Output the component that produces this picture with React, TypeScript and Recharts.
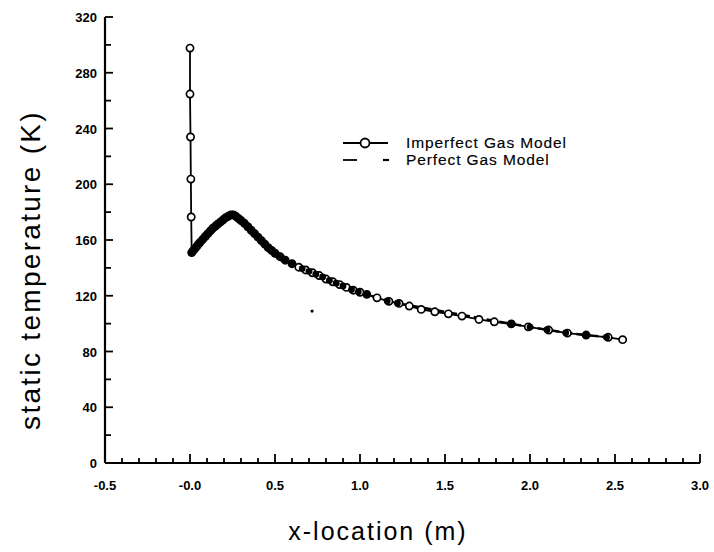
import React from 'react';
import { ComposedChart, Line, Scatter, XAxis, YAxis, Customized } from 'recharts';

// Imperfect gas model (open circles)
const impX = [
  0, 0, 0.003, 0.005, 0.007, 0.01,
  0.02, 0.03, 0.04, 0.05, 0.06, 0.075, 0.09, 0.105, 0.12, 0.135, 0.15, 0.165, 0.18, 0.195, 0.21, 0.225, 0.24,
  0.255, 0.27, 0.285, 0.3, 0.32, 0.34, 0.36, 0.38, 0.4, 0.42, 0.44, 0.46, 0.48, 0.5, 0.53, 0.56, 0.6,
  0.64, 0.68, 0.72, 0.76, 0.8, 0.84, 0.88, 0.92, 0.96, 1.0, 1.04, 1.1, 1.17, 1.23, 1.29, 1.36, 1.44,
  1.52, 1.6, 1.7, 1.79, 1.89, 1.99, 2.11, 2.22, 2.33, 2.46, 2.545,
];
const impT = [
  297.7, 264.7, 233.9, 203.7, 176.5, 151,
  152.5, 154, 155.5, 157, 158.5, 160.5, 162.5, 164.5, 166.5, 168.5, 170, 171.5, 173, 174.5, 176, 177, 178,
  178, 177, 175.5, 174, 172, 169.5, 167, 164.5, 162, 159.5, 157, 154.5, 152.5, 150.5, 148, 145.5, 143,
  140.5, 138.5, 136.5, 134.5, 132, 130, 128, 126, 124, 122.5, 121, 118.5, 116, 114.5, 112.6, 110.2, 108.5,
  107, 105.4, 103, 101.3, 99.8, 97.7, 95.4, 93.2, 91.8, 90.2, 88.5,
];

// Perfect gas model (dashed, its points print as solid blobs)
const perX = [
  0.01, 0.025, 0.04, 0.055, 0.07, 0.085, 0.1, 0.115, 0.13, 0.145, 0.16, 0.175, 0.19, 0.205, 0.22, 0.235,
  0.25, 0.265, 0.28, 0.295, 0.31, 0.325, 0.34, 0.355, 0.37, 0.385, 0.4, 0.415, 0.43, 0.445, 0.46, 0.475,
  0.49, 0.505, 0.52, 0.54, 0.56, 0.6, 0.66, 0.7, 0.74, 0.78, 0.82, 0.86, 0.9, 0.95, 0.99, 1.04, 1.16,
  1.22, 1.89, 2.0, 2.1, 2.21, 2.33, 2.45,
];
const perT = [
  151, 153.5, 155.5, 158, 160, 162, 164, 166, 167.5, 169.5, 171, 172.5, 174, 175.5, 177, 178,
  178.5, 177.5, 176, 174.5, 173, 171.5, 169.5, 167.5, 165.5, 164, 162, 160, 158.5, 156.5, 154.5, 153,
  151.5, 150, 149, 147, 145.5, 143, 139.5, 137.5, 135.5, 133.5, 131, 129, 127, 124.5, 122.8, 121, 116.3,
  114.7, 99.8, 97.5, 95.6, 93.4, 91.8, 90.3,
];

// stray speck in the scan
const speckX = [0.718];
const speckT = [109];

const xTicks = [
  -0.5, -0.4, -0.3, -0.2, -0.1, 0, 0.1, 0.2, 0.3, 0.4, 0.5, 0.6, 0.7, 0.8, 0.9, 1.0, 1.1, 1.2,
  1.3, 1.4, 1.5, 1.6, 1.7, 1.8, 1.9, 2.0, 2.1, 2.2, 2.3, 2.4, 2.5, 2.6, 2.7, 2.8, 2.9, 3.0,
];
const xLabels = ['-0.5', '-0.0', '0.5', '1.0', '1.5', '2.0', '2.5', '3.0'];
const yTicks = [0, 20, 40, 60, 80, 100, 120, 140, 160, 180, 200, 220, 240, 260, 280, 300, 320];

const impData = impX.map((x, i) => ({ x, t: impT[i] }));
const perData = perX.map((x, i) => ({ x, t: perT[i] }));
const speckData = speckX.map((x, i) => ({ x, t: speckT[i] }));

const tickFont = { fontFamily: 'Liberation Sans, Arial, sans-serif', fontWeight: 700, fontSize: 13 };

const XTick = (props: any) => {
  const { x, y, payload } = props;
  const v = payload.value;
  const idx = Math.round((v + 0.5) * 10);
  const major = idx % 5 === 0;
  return (
    <g>
      <line x1={x} y1={y} x2={x} y2={y - (major ? 9 : 5)} stroke="#000" strokeWidth={1.8} />
      {major && (
        <text x={x} y={y + 27} textAnchor="middle" fill="#000" style={tickFont}>
          {xLabels[idx / 5]}
        </text>
      )}
    </g>
  );
};

const YTick = (props: any) => {
  const { x, y, payload } = props;
  const major = payload.value % 40 === 0;
  return (
    <g>
      <line x1={x} y1={y} x2={x + (major ? 8 : 6)} y2={y} stroke="#000" strokeWidth={1.8} />
      {major && (
        <text x={x - 8} y={y + 5} textAnchor="end" fill="#000" style={tickFont}>
          {payload.value}
        </text>
      )}
    </g>
  );
};

const Extras = () => {
  const legendFont = { fontFamily: 'Liberation Sans, Arial, sans-serif', fontSize: 15.5, letterSpacing: 0.9 };
  return (
    <g>
      <text
        x={30}
        y={270}
        transform="rotate(-90 30 270)"
        textAnchor="middle"
        dominantBaseline="central"
        style={{ fontFamily: 'Liberation Sans, Arial, sans-serif', fontSize: 28, letterSpacing: 2.3 }}
        fill="#000"
      >
        static temperature (K)
      </text>
      <text
        x={378}
        y={540}
        textAnchor="middle"
        style={{ fontFamily: 'Liberation Sans, Arial, sans-serif', fontSize: 25, letterSpacing: 2 }}
        fill="#000"
      >
        x-location (m)
      </text>
      <line x1={343} y1={143} x2={388} y2={143} stroke="#000" strokeWidth={1.8} />
      <circle cx={365} cy={143} r={4.5} fill="#fff" stroke="#000" strokeWidth={1.8} />
      <text x={406} y={148} fill="#000" stroke="#000" strokeWidth={0.15} style={legendFont}>Imperfect Gas Model</text>
      <line x1={343} y1={160} x2={357} y2={160} stroke="#000" strokeWidth={1.8} />
      <line x1={383} y1={160} x2={389} y2={160} stroke="#000" strokeWidth={2.2} />
      <text x={406} y={165} fill="#000" stroke="#000" strokeWidth={0.15} style={legendFont}>Perfect Gas Model</text>
    </g>
  );
};

export default function App() {
  return (
    <div style={{ position: 'absolute', left: 0, top: 0, background: '#fff' }}>
      <ComposedChart width={714} height={552} margin={{ top: 17, right: 14, left: 0, bottom: 0 }}>
        <XAxis
          type="number"
          dataKey="x"
          domain={[-0.5, 3.0]}
          ticks={xTicks}
          interval={0}
          allowDataOverflow
          height={89}
          tickSize={0}
          tickMargin={0}
          tickLine={false}
          axisLine={{ stroke: '#000', strokeWidth: 2.2 }}
          tick={<XTick />}
        />
        <YAxis
          type="number"
          dataKey="t"
          domain={[0, 320]}
          ticks={yTicks}
          interval={0}
          width={105}
          tickSize={0}
          tickMargin={0}
          tickLine={false}
          axisLine={{ stroke: '#000', strokeWidth: 2.2 }}
          tick={<YTick />}
        />
        <Line
          data={impData}
          dataKey="t"
          type="linear"
          stroke="#000"
          strokeWidth={1.8}
          dot={{ r: 3.6, fill: '#fff', stroke: '#000', strokeWidth: 1.7 }}
          isAnimationActive={false}
        />
        <Line
          data={perData}
          dataKey="t"
          type="linear"
          stroke="#000"
          strokeWidth={2.5}
          strokeDasharray="9 4"
          dot={{ r: 3.4, fill: '#000', stroke: 'none' }}
          isAnimationActive={false}
        />
        <Scatter data={speckData} dataKey="t" fill="#000" shape={(p: any) => <circle cx={p.cx} cy={p.cy} r={1.6} fill="#000" />} isAnimationActive={false} />
        <Customized component={Extras} />
      </ComposedChart>
    </div>
  );
}
